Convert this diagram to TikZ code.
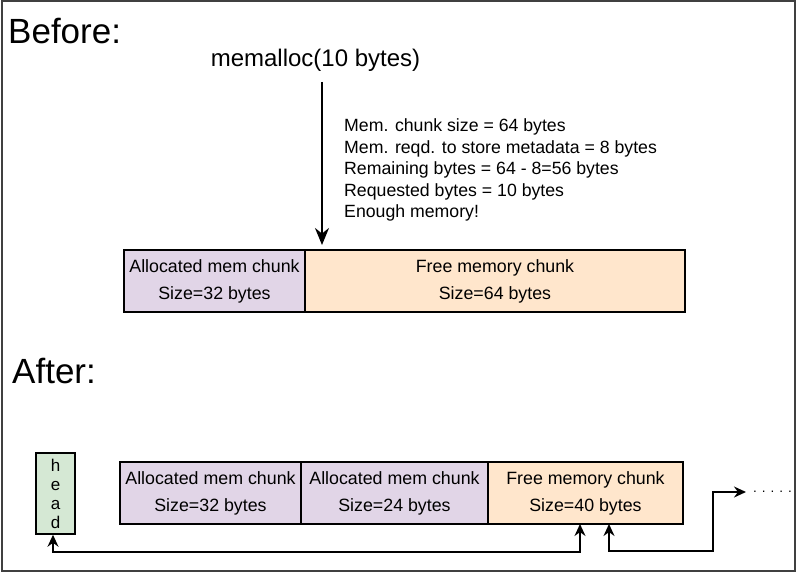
\documentclass[tikz,border=0pt]{standalone}
\usepackage{fontspec}
\setmainfont{Liberation Sans}
\usepackage{xcolor}
\usepackage{tikz}
\usetikzlibrary{positioning,arrows.meta}

\definecolor{allocfill}{HTML}{E1D5E7}
\definecolor{freefill}{HTML}{FFE6CC}
\definecolor{headfill}{HTML}{D5E8D4}

\tikzset{
    chunk/.style={draw, rectangle, black, line width=2.5pt, minimum height=62pt, inner sep=0pt, outer sep=0pt, align=center, font=\fontsize{17.8}{27}\selectfont, execute at begin node={\rule{0pt}{32pt}}},
    alloc/.style={chunk, fill=allocfill},
    free/.style={chunk, fill=freefill},
    link/.style={black, line width=1.5pt, {Stealth[length=12pt,width=11pt]}-{Stealth[length=12pt,width=11pt]}}
}

\begin{document}
\begin{tikzpicture}[x=1pt, y=-1pt]
                \useasboundingbox (0,0) rectangle (796,572);
                \draw[line width=2pt, black!75] (1.5,1.5) rectangle (794.5,570.5);
                \node[anchor=west, inner sep=0pt, font=\fontsize{35}{40}\selectfont] (before) at (8,31) {Before:};
                \node[anchor=west, inner sep=0pt, font=\fontsize{35}{40}\selectfont] (after) at (12,371) {After:};
                \node[inner sep=0pt, font=\fontsize{24}{28}\selectfont] (call) at (315.5,60) {memalloc(10 bytes)};
                \node[anchor=north west, inner sep=0pt, align=left, font=\fontsize{17.7}{21.5}\selectfont] (info) at (344,118.5) {Mem. chunk size = 64 bytes\\Mem. reqd. to store metadata = 8 bytes\\Remaining bytes = 64 - 8=56 bytes\\Requested bytes = 10 bytes\\Enough memory!};
                % before the call
                \node[alloc, minimum width=181pt, anchor=north west] (no1) at (124,250) {Allocated mem chunk\\Size=32 bytes};
                \node[free, minimum width=380pt, right=0pt of no1] (no2) {Free memory chunk\\Size=64 bytes};
                \coordinate (split) at (322,82);
                \draw[black, line width=2pt, -{Stealth[length=17pt,width=14pt]}] (split) -- ([yshift=5pt]split |- no2.north);
                % after the call
                \node[draw, rectangle, black, fill=headfill, line width=1.5pt, minimum width=39pt, minimum height=81pt, inner sep=0pt, align=center, font=\fontsize{17}{19}\selectfont] (head) at (55.5,493.5) {h\\e\\a\\d};
                \node[alloc, minimum width=181pt, anchor=north west] (no3) at (120,462) {Allocated mem chunk\\Size=32 bytes};
                \node[alloc, minimum width=187pt, right=0pt of no3] (no4) {Allocated mem chunk\\Size=24 bytes};
                \node[free, minimum width=195pt, right=0pt of no4] (no5) {Free memory chunk\\Size=40 bytes};
                \node[anchor=west, inner sep=0pt, font=\fontsize{13.5}{16}\selectfont] (more) at (753,492) {. . . . .};
                \draw[link] ([xshift=-2.5pt]head.south) -- ++(0,17) -| ([xshift=92pt]no5.south west);
                \draw[link] ([xshift=121pt]no5.south west) -- ++(0,27) -| ++(104,-59) -- ([xshift=-7pt]more.west |- 0,492);
\end{tikzpicture}
\end{document}
